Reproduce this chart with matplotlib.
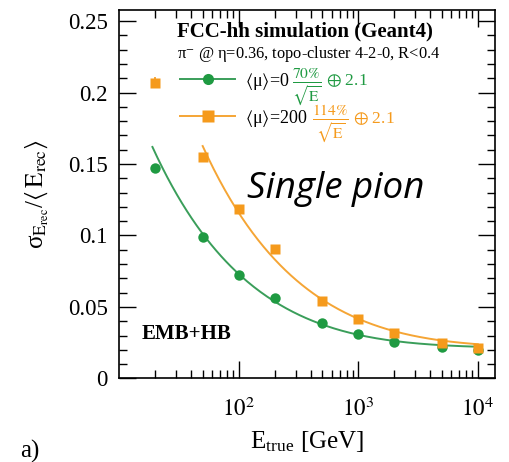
import numpy as np
import matplotlib
matplotlib.use("Agg")
import matplotlib.pyplot as plt
from matplotlib.lines import Line2D
from matplotlib.ticker import MultipleLocator, LogLocator, NullFormatter

plt.rcParams["font.family"] = ["Liberation Serif", "DejaVu Serif"]
plt.rcParams["mathtext.fontset"] = "stix"

# ── Data ─────────────────────────────────────────────────────────────────────
e_mu0 = [20, 50, 100, 200, 500, 1000, 2000, 5000, 10000]
res_mu0 = [0.147, 0.099, 0.0726, 0.056, 0.0385, 0.0308, 0.0258, 0.0217, 0.0198]

e_mu200 = [50, 100, 200, 500, 1000, 2000, 5000, 10000]
res_mu200 = [0.155, 0.1185, 0.0905, 0.0543, 0.0418, 0.032, 0.0245, 0.021]

# stray orange point at 20 GeV (with small error bar)
e_out = [20]
res_out = [0.207]
err_out = [0.004]

# fit parameters from the legend: a/sqrt(E) (+) c
fit_a = {"mu0": 0.70, "mu200": 1.14}
fit_c = 0.021
fit_range = {"mu0": (19, 10000), "mu200": (50, 10000)}

GREEN = "#1f9a42"
GREEN_LINE = "#3a9e5a"
ORANGE = "#f59a1c"
ORANGE_LINE = "#f5a535"


def fit_curve(key):
    e = np.logspace(np.log10(fit_range[key][0]), np.log10(fit_range[key][1]), 200)
    return e, np.sqrt((fit_a[key] / np.sqrt(e)) ** 2 + fit_c ** 2)


fig = plt.figure(figsize=(5.09, 4.62), dpi=100)
ax = fig.add_axes([0.234, 0.181, 0.739, 0.798])

ex, ey = fit_curve("mu0")
ax.plot(ex, ey, color=GREEN_LINE, lw=1.4)
ex, ey = fit_curve("mu200")
ax.plot(ex, ey, color=ORANGE_LINE, lw=1.4)

ax.plot(e_mu0, res_mu0, "o", color=GREEN, ms=7.5, mec="none")
ax.plot(e_mu200, res_mu200, "s", color=ORANGE, ms=7.5, mec="none")
ax.errorbar(e_out, res_out, yerr=err_out, fmt="s", color=ORANGE, ms=7,
            mec="none", elinewidth=1.2, capsize=0)

ax.set_xscale("log")
ax.set_xlim(10, 1.4e4)
ax.set_ylim(0, 0.258)

ax.yaxis.set_minor_locator(MultipleLocator(0.01))
ax.set_yticks([0, 0.05, 0.1, 0.15, 0.2, 0.25])
ax.set_yticklabels(["0", "0.05", "0.1", "0.15", "0.2", "0.25"])
ax.xaxis.set_minor_locator(LogLocator(base=10, subs=np.arange(2, 10), numticks=20))
ax.xaxis.set_minor_formatter(NullFormatter())
ax.set_xticks([100, 1000, 10000])
ax.set_xticklabels([r"$10^2$", r"$10^3$", r"$10^4$"])

ax.tick_params(which="both", direction="in", top=True, right=True,
               labelsize=16.5, width=1.0)
ax.tick_params(which="major", length=12)
ax.tick_params(axis="y", which="major", pad=8)
ax.tick_params(axis="x", which="major", pad=14)
ax.tick_params(which="minor", length=6)
for sp in ax.spines.values():
    sp.set_linewidth(1.2)

ax.set_xlabel(r"E$_{\mathregular{true}}$ [GeV]", fontsize=18, labelpad=6)
ax.set_ylabel(r"σ$_{\mathrm{E}_{\mathrm{rec}}}$/$\langle\,\mathrm{E}_{\mathrm{rec}}\rangle$",
              fontsize=18, labelpad=12)

# ── Legend ───────────────────────────────────────────────────────────────────
handles = [
    Line2D([], [], color=GREEN_LINE, lw=1.4, marker="o", ms=8,
           mfc=GREEN, mec="none"),
    Line2D([], [], color=ORANGE_LINE, lw=1.4, marker="s", ms=8,
           mfc=ORANGE, mec="none"),
]
labels = [r"$\langle$μ$\rangle$=0", r"$\langle$μ$\rangle$=200"]
ax.legend(handles, labels, loc="upper left", bbox_to_anchor=(0.162, 0.835),
          frameon=False, fontsize=13, handlelength=3.05, labelspacing=0.9,
          handletextpad=0.55, borderaxespad=0, borderpad=0)

# resolution terms next to the legend entries
ax.text(0.46, 0.79, r"$\frac{70\%}{\sqrt{\mathrm{E}}}$",
        transform=ax.transAxes, color=GREEN, fontsize=16, va="center")
ax.text(0.549, 0.806, r"$\oplus$ 2.1",
        transform=ax.transAxes, color=GREEN, fontsize=12.5, va="center")
ax.text(0.512, 0.69, r"$\frac{114\%}{\sqrt{\mathrm{E}}}$",
        transform=ax.transAxes, color=ORANGE, fontsize=16, va="center")
ax.text(0.621, 0.704, r"$\oplus$ 2.1",
        transform=ax.transAxes, color=ORANGE, fontsize=12.5, va="center")

# ── Annotations ──────────────────────────────────────────────────────────────
ax.text(0.155, 0.968, "FCC-hh simulation (Geant4)", transform=ax.transAxes,
        fontsize=15, fontweight="bold", va="top")
ax.text(0.155, 0.908, r"π$^{-}$ @ η=0.36, topo-cluster 4-2-0, R<0.4",
        transform=ax.transAxes, fontsize=11.8, va="top")
ax.text(0.34, 0.515, "Single pion", transform=ax.transAxes, fontsize=26.5,
        style="italic", family="Open Sans", va="center")
ax.text(0.06, 0.12, "EMB+HB", transform=ax.transAxes, fontsize=15,
        fontweight="bold", va="center")

fig.text(0.039, 0.022, "a)", fontsize=18, va="center")

fig.savefig("out.png", dpi=100)
